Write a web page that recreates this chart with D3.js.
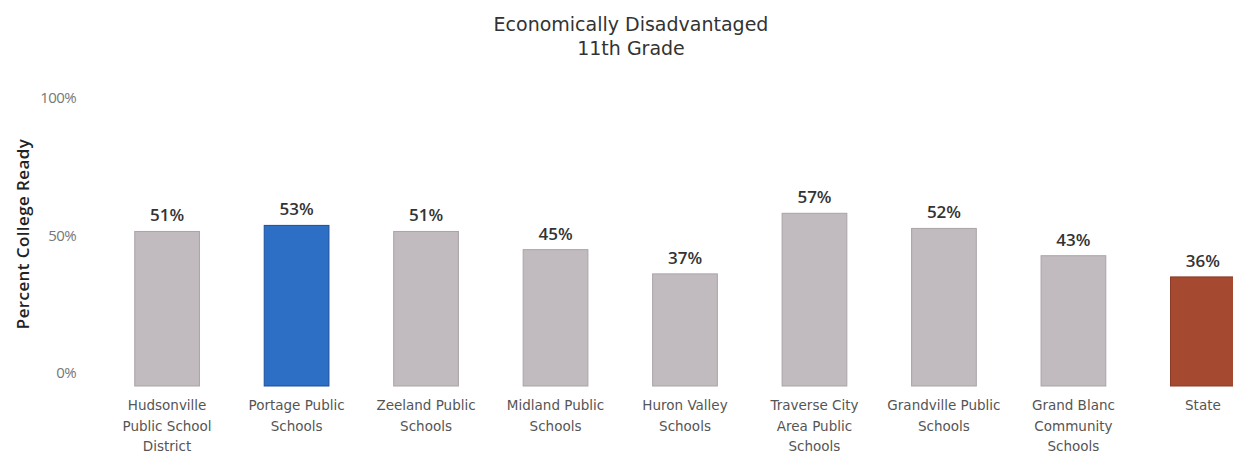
<!DOCTYPE html>
<html>
<head>
<meta charset="utf-8">
<script src="https://cdn.jsdelivr.net/npm/d3@7"></script>
<style>
  body { margin: 0; background: #fff; }
  svg { display: block; }
  .title { font-family: "DejaVu Sans", sans-serif; font-size: 19px; fill: #333; }
  .tick text { font-family: "Open Sans", sans-serif; font-size: 15px; fill: #777; letter-spacing: -0.6px; }
  .ytitle { font-family: "Open Sans", sans-serif; font-size: 17px; font-weight: 600; fill: #222; letter-spacing: 0.4px; }
  .val { font-family: "Open Sans", sans-serif; font-size: 17px; font-weight: 600; fill: #333; }
  .cat { font-family: "DejaVu Sans", sans-serif; font-size: 13.5px; fill: #555; }
</style>
</head>
<body>
<div id="chart"></div>
<script>
var categories = ["Hudsonville Public School District", "Portage Public Schools", "Zeeland Public Schools",
  "Midland Public Schools", "Huron Valley Schools", "Traverse City Area Public Schools",
  "Grandville Public Schools", "Grand Blanc Community Schools", "State"];
var categoryLines = [
  ["Hudsonville", "Public School", "District"],
  ["Portage Public", "Schools"],
  ["Zeeland Public", "Schools"],
  ["Midland Public", "Schools"],
  ["Huron Valley", "Schools"],
  ["Traverse City", "Area Public", "Schools"],
  ["Grandville Public", "Schools"],
  ["Grand Blanc", "Community", "Schools"],
  ["State"]
];
var values = [51, 53, 51, 45, 37, 57, 52, 43, 36];
var yTicks = [0, 50, 100];
var highlight = {"Portage Public Schools": "blue", "State": "state"};

var width = 1233, height = 456;

var svg = d3.select("#chart").append("svg")
  .attr("width", width)
  .attr("height", height);

var x = d3.scaleBand()
  .domain(categories)
  .range([70, 1300])
  .paddingInner(0.5)
  .paddingOuter(0.5);

var y = d3.scaleLinear().domain([0, 100]).range([386, 83]);
// tableau puts the tick text a bit inside the axis ends
var yLabel = d3.scaleLinear().domain([0, 100]).range([373, 98]);

// title
svg.append("text").attr("class", "title")
  .attr("x", 631).attr("y", 31).attr("text-anchor", "middle")
  .text("Economically Disadvantaged");
svg.append("text").attr("class", "title")
  .attr("x", 631).attr("y", 55).attr("text-anchor", "middle")
  .text("11th Grade");

// y axis labels
var yAxis = d3.axisLeft(yLabel)
  .tickValues(yTicks)
  .tickSize(0)
  .tickPadding(0)
  .tickFormat(function(d) { return d + "%"; });

var ga = svg.append("g")
  .attr("transform", "translate(76,0)")
  .call(yAxis);
ga.select(".domain").remove();

svg.append("text").attr("class", "ytitle")
  .attr("transform", "translate(29,234) rotate(-90)")
  .attr("text-anchor", "middle")
  .text("Percent College Ready");

function fillOf(c) {
  if (highlight[c] == "blue") return "#2e6fc6";
  if (highlight[c] == "state") return "#a54a30";
  return "#c1babf";
}
function strokeOf(c) {
  if (highlight[c] == "blue") return "#1d4f9c";
  if (highlight[c] == "state") return "#8a3a24";
  return "#aaa3a8";
}

var bars = svg.selectAll(".bar")
  .data(categories)
  .enter()
  .append("rect")
  .attr("class", "bar")
  .attr("x", function(d) { return x(d); })
  .attr("width", x.bandwidth())
  .attr("y", function(d, i) { return y(values[i]); })
  .attr("height", function(d, i) { return y(0) - y(values[i]); })
  .attr("fill", fillOf)
  .attr("stroke", strokeOf)
  .attr("stroke-width", 1);

svg.selectAll(".val")
  .data(categories)
  .enter()
  .append("text")
  .attr("class", "val")
  .attr("x", function(d) { return x(d) + x.bandwidth() / 2; })
  .attr("y", function(d, i) { return y(values[i]) - 10; })
  .attr("text-anchor", "middle")
  .text(function(d, i) { return values[i] + "%"; });

var cats = svg.selectAll(".cat")
  .data(categories)
  .enter()
  .append("text")
  .attr("class", "cat")
  .attr("text-anchor", "middle")
  .attr("x", function(d) { return x(d) + x.bandwidth() / 2; })
  .attr("y", 410);

cats.selectAll("tspan")
  .data(function(d, i) { return categoryLines[i]; })
  .enter()
  .append("tspan")
  .attr("x", function() { return d3.select(this.parentNode).attr("x"); })
  .attr("dy", function(d, j) { return j == 0 ? 0 : 20.5; })
  .text(function(d) { return d; });
</script>
</body>
</html>
